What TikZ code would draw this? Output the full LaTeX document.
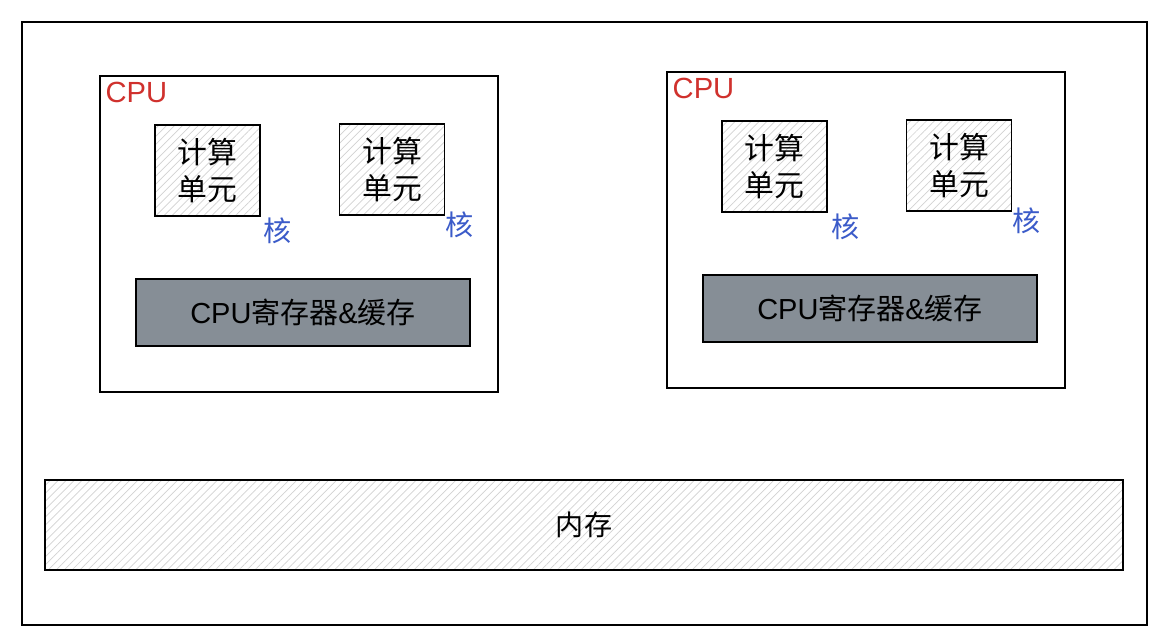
\documentclass[tikz,border=0pt]{standalone}
\usepackage{fontspec}
\setmainfont{Liberation Sans}
\newfontfamily\cjk{Noto Sans CJK SC}
\usetikzlibrary{positioning,patterns.meta}
\definecolor{regfill}{HTML}{868E96}
\definecolor{cpured}{HTML}{D0312D}
\definecolor{coreblue}{HTML}{3B5BC9}

\begin{document}
\begin{tikzpicture}[
  x=0.02cm, y=-0.02cm,
  frame/.style={rectangle, draw, line width=0.8pt, fill=white},
  hatched/.style={rectangle, draw, line width=0.8pt,
                  pattern={Lines[angle=45,distance=3.2pt,line width=0.4pt]},
                  pattern color=gray!35},
  core/.style={hatched, minimum width=2.1cm, minimum height=1.82cm,
               align=center, font=\cjk\fontsize{17}{21}\selectfont},
  reg/.style={rectangle, draw, line width=0.8pt, fill=regfill,
              minimum width=6.68cm, minimum height=1.34cm,
              font=\fontsize{16.5}{19}\selectfont},
  cpulbl/.style={text=cpured, inner sep=0pt, font=\fontsize{16.6}{19}\selectfont},
  corelbl/.style={text=coreblue, inner sep=0pt, font=\cjk\fontsize{16}{19}\selectfont},
  node distance=0.1cm
]
\useasboundingbox (0,0) rectangle (1170,642);
\node[frame, minimum width=22.5cm, minimum height=12.06cm] (host) at (584.5,323.5) {};

% first CPU
\node[frame, minimum width=7.96cm, minimum height=6.32cm] (cpu1) at (299,234) {};
\node[cpulbl, below right=0.12cm and 0.12cm of cpu1.north west] (cpu1lbl) {CPU};
\node[core] (c1a) at (207.5,170.5) {计算\\单元};
\node[core] (c1b) at (392,169.5) {计算\\单元};
\node[corelbl, below right=0.02cm and 0.06cm of c1a.south east] (k1a) {核};
\node[corelbl, below right=-0.08cm and 0cm of c1b.south east] (k1b) {核};
\node[reg] (reg1) at (303,312.5) {CPU{\cjk 寄存器}\&{\cjk 缓存}};

% second CPU
\node[frame, minimum width=7.96cm, minimum height=6.32cm] (cpu2) at (866,230) {};
\node[cpulbl, below right=0.12cm and 0.12cm of cpu2.north west] (cpu2lbl) {CPU};
\node[core] (c2a) at (774.5,166.5) {计算\\单元};
\node[core] (c2b) at (959,165.5) {计算\\单元};
\node[corelbl, below right=0.02cm and 0.06cm of c2a.south east] (k2a) {核};
\node[corelbl, below right=-0.08cm and 0cm of c2b.south east] (k2b) {核};
\node[reg] (reg2) at (870,308.5) {CPU{\cjk 寄存器}\&{\cjk 缓存}};

% memory
\node[hatched, minimum width=21.56cm, minimum height=1.8cm,
      font=\cjk\fontsize{16}{19}\selectfont] (mem) at (584,525) {内存};
\end{tikzpicture}
\end{document}
